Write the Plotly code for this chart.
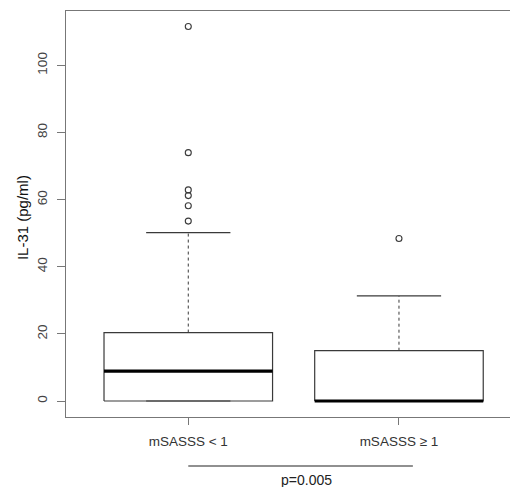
import plotly.graph_objects as go

# ---- data ----
groups = ["mSASSS < 1", "mSASSS \u2265 1"]
q1 = [0.0, 0.0]
median = [8.9, 0.0]
q3 = [20.4, 15.0]
lower_whisker = [0.0, 0.0]
upper_whisker = [50.2, 31.3]
outliers = [
    [111.6, 74.0, 62.9, 61.2, 58.2, 53.6],
    [48.4],
]
y_ticks = [0, 20, 40, 60, 80, 100]
p_text = "p=0.005"
y_title = "IL-31 (pg/ml)"

FONT = "Liberation Sans, Arial, Helvetica, sans-serif"
LINE = "#3a3a3a"
BOXW = 0.8
STAPLE = 0.4

fig = go.Figure()
for i, g in enumerate(groups):
    xc = i + 1
    l, r = xc - BOXW / 2, xc + BOXW / 2
    fig.add_trace(go.Scatter(
        x=[l, r, r, l, l], y=[q1[i], q1[i], q3[i], q3[i], q1[i]],
        mode="lines", line=dict(color=LINE, width=1.2), hoverinfo="skip", showlegend=False))
    fig.add_trace(go.Scatter(
        x=[xc, xc, None, xc, xc], y=[q3[i], upper_whisker[i], None, q1[i], lower_whisker[i]],
        mode="lines", line=dict(color=LINE, width=1, dash="3px,3px"), hoverinfo="skip", showlegend=False))
    fig.add_trace(go.Scatter(
        x=[xc - STAPLE / 2, xc + STAPLE / 2, None, xc - STAPLE / 2, xc + STAPLE / 2],
        y=[upper_whisker[i], upper_whisker[i], None, lower_whisker[i], lower_whisker[i]],
        mode="lines", line=dict(color=LINE, width=1.2), hoverinfo="skip", showlegend=False))
    fig.add_trace(go.Scatter(
        x=[l, r], y=[median[i], median[i]],
        mode="lines", line=dict(color="#000000", width=3.2), hoverinfo="skip", showlegend=False))
    fig.add_trace(go.Scatter(
        x=[xc] * len(outliers[i]), y=outliers[i], mode="markers",
        marker=dict(symbol="circle-open", size=6, color=LINE, line=dict(width=1.1)),
        hoverinfo="skip", showlegend=False))

# significance bracket
fig.add_shape(type="line", xref="x", yref="paper", x0=1, x1=2.066, y0=-0.1207, y1=-0.1207,
              line=dict(color="#222222", width=1.2))
fig.add_annotation(text=p_text, xref="x", yref="paper", x=1.56, y=-0.155,
                   showarrow=False, yanchor="middle", xanchor="center",
                   font=dict(family=FONT, size=14, color="#222222"))
# y-axis title
fig.add_annotation(text=y_title, xref="paper", yref="paper", x=-0.099, y=0.49,
                   textangle=-90, showarrow=False, xanchor="center", yanchor="middle",
                   font=dict(family=FONT, size=15, color="#111111"))

fig.update_layout(
    width=510, height=487,
    margin=dict(l=66, r=0, t=11, b=70),
    paper_bgcolor="white", plot_bgcolor="white",
    font=dict(family=FONT, size=13, color="#333333"),
    xaxis=dict(range=[0.4196, 2.527], tickvals=[1, 2], ticktext=groups,
               showgrid=False, zeroline=False, showline=True, mirror=True,
               linecolor="#777777", linewidth=1.3, automargin=False,
               ticks="outside", ticklen=7, tickcolor="#777777",
               tickfont=dict(family=FONT, size=13.5, color="#333333"),
               ticklabelstandoff=5),
    yaxis=dict(range=[-4.76, 116.2], tickvals=y_ticks,
               showgrid=False, zeroline=False, showline=True, mirror=False,
               linecolor="#777777", linewidth=1.3, automargin=False,
               ticks="outside", ticklen=8, tickcolor="#777777",
               tickangle=-90,
               tickfont=dict(family=FONT, size=13.5, color="#444444"),
               ticklabelstandoff=4),
)

fig.write_html("out.html", config={"displayModeBar": False},
               post_script="document.body.style.margin='0';document.body.style.overflow='hidden';")
